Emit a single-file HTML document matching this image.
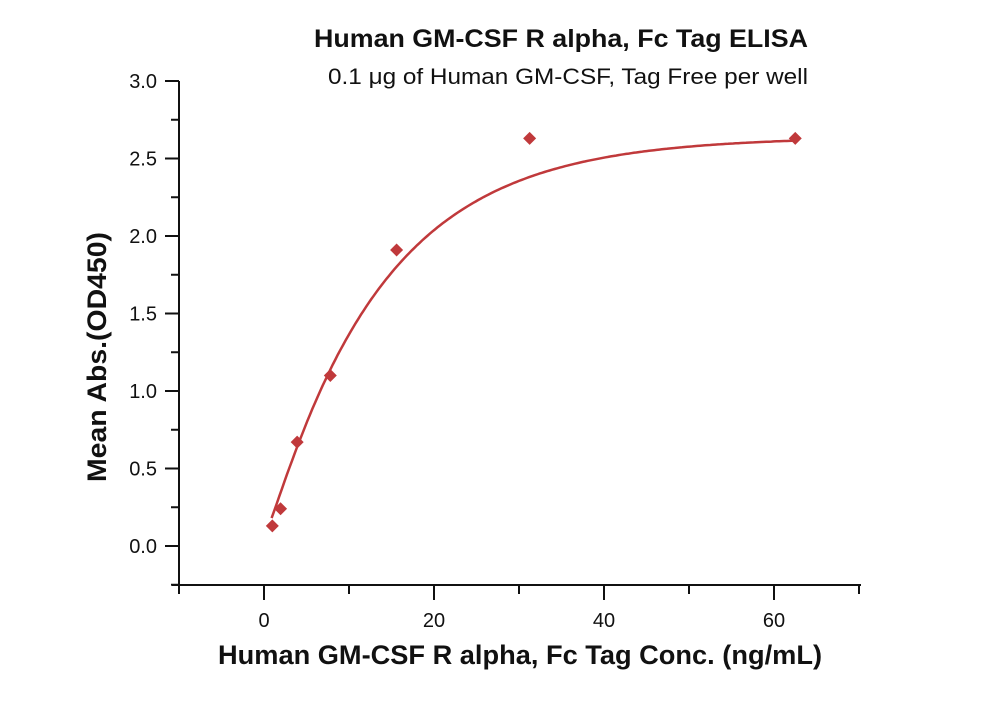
<!DOCTYPE html>
<html><head><meta charset="utf-8"><style>
body{margin:0;background:#fff}
svg text{font-family:"Liberation Sans",sans-serif}
</style></head><body>
<svg width="1000" height="702" viewBox="0 0 1000 702" xmlns="http://www.w3.org/2000/svg" id="chart">
<text x="314" y="47" textLength="494" lengthAdjust="spacingAndGlyphs" font-size="25" font-weight="bold" fill="#111">Human GM-CSF R alpha, Fc Tag ELISA</text>
<text x="328" y="84" textLength="480" lengthAdjust="spacingAndGlyphs" font-size="22" fill="#111">0.1 μg of Human GM-CSF, Tag Free per well</text>
<text transform="translate(106,482) rotate(-90)" textLength="250" lengthAdjust="spacingAndGlyphs" font-size="27" font-weight="bold" fill="#111">Mean Abs.(OD450)</text>
<text x="218" y="664" textLength="604" lengthAdjust="spacingAndGlyphs" font-size="27" font-weight="bold" fill="#111">Human GM-CSF R alpha, Fc Tag Conc. (ng/mL)</text>
<g id="plot"></g>
</svg>
<script>
const xTicks=[0,20,40,60];
const xTickLabels=["0","20","40","60"];
const yTicks=[0,0.5,1,1.5,2,2.5,3];
const yTickLabels=["0.0","0.5","1.0","1.5","2.0","2.5","3.0"];
const concentrations=[0.98,1.95,3.9,7.8,15.6,31.25,62.5];
const absorbance=[0.13,0.24,0.67,1.10,1.91,2.63,2.63];
const fitTop=[2.64];
const fitRate=[0.075];
const fitShift=[0.3];
const L=179,R=861,B=585,T=81;
const sx=v=>264+(v-0)*8.5;
const sy=v=>546-(v-0)*155;
const ns="http://www.w3.org/2000/svg";
const g=document.getElementById('plot');
function mk(t,a){const e=document.createElementNS(ns,t);for(const k in a)e.setAttribute(k,a[k]);g.appendChild(e);return e;}
let e=mk('line',{x1:L,y1:B,x2:L,y2:T,stroke:'#111','stroke-width':2});

e=mk('line',{x1:L-7,y1:B,x2:R,y2:B,stroke:'#111','stroke-width':2});

for(let v=-10;v<=70;v+=10){const major=xTicks.includes(v);
 e=mk('line',{x1:sx(v),y1:B,x2:sx(v),y2:B+(major?15:9),stroke:'#111','stroke-width':2});
 }
xTicks.forEach((v,i)=>{e=mk('text',{x:sx(v),y:B+42,'text-anchor':'middle','font-size':20,fill:'#111'});e.textContent=xTickLabels[i];
 });
for(let v=-0.25;v<=3.001;v+=0.25){const major=Math.abs(v*2-Math.round(v*2))<1e-6&&v>=0;
 e=mk('line',{x1:L-(major?14:8),y1:sy(v),x2:L,y2:sy(v),stroke:'#111','stroke-width':2});
 }
yTicks.forEach((v,i)=>{e=mk('text',{x:L-22,y:sy(v)+7,'text-anchor':'end','font-size':20,fill:'#111'});e.textContent=yTickLabels[i];
 });
let d='';
for(let x=0.9;x<=62.5;x+=0.3){const y=fitTop[0]*(1-Math.exp(-fitRate[0]*(x-fitShift[0])))+0.1*Math.exp(-0.5*x);d+=(d?'L':'M')+sx(x).toFixed(1)+','+sy(y).toFixed(1);}
e=mk('path',{d:d,fill:'none',stroke:'#c0393b','stroke-width':2.5});

concentrations.forEach((c,i)=>{const x=sx(c),y=sy(absorbance[i]),s=6.5;
 e=mk('polygon',{points:`${x},${y-s} ${x+s},${y} ${x},${y+s} ${x-s},${y}`,fill:'#c0393b'});
 });
</script>
</body></html>
